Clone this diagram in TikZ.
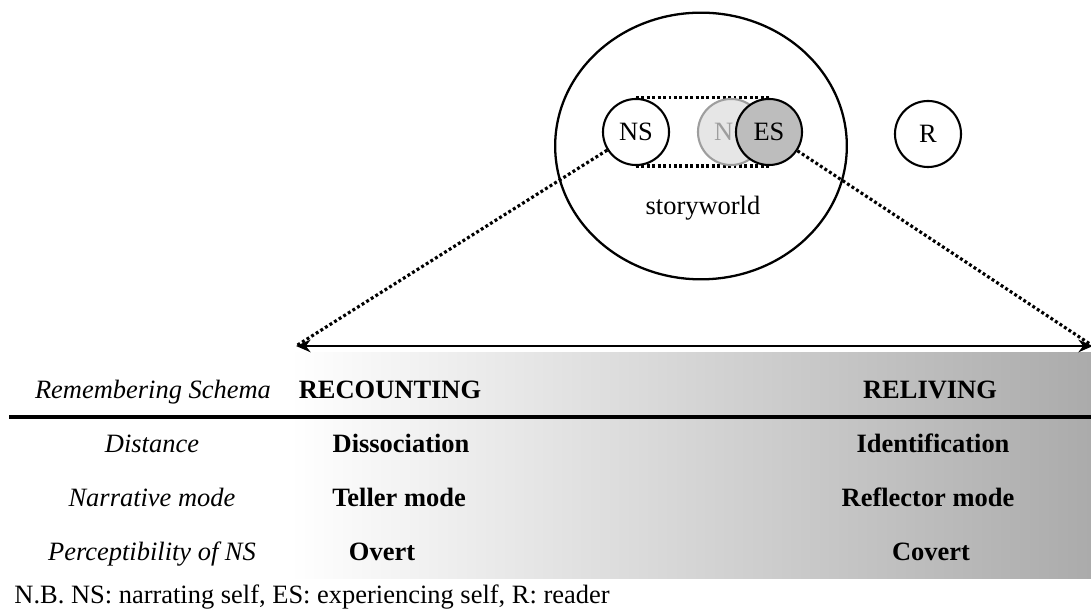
\documentclass[tikz,border=0pt]{standalone}
\usepackage{fontspec}
\setmainfont{Liberation Serif}
\usetikzlibrary{shapes.geometric, arrows.meta, backgrounds}
\usepackage{xcolor}
\definecolor{cShadeR}{HTML}{ABABAB}
\definecolor{cGhost}{HTML}{E6E6E6}
\definecolor{cGhostLine}{HTML}{9E9E9E}
\definecolor{cSelf}{HTML}{BDBDBD}
\newcommand{\diagfont}{\fontsize{12.7}{15}\selectfont}
\tikzset{
  selfnode/.style={
    draw=black, fill=#1, circle, line width=1pt,
    minimum size=31.7pt, inner sep=0pt, font=\diagfont,
  },
  selfnode/.default=white,
  rowlabel/.style={font=\diagfont\itshape, anchor=base},
  rowvalue/.style={font=\diagfont\bfseries, anchor=base},
  dotline/.style={line width=1.5pt, dash pattern=on 1.4pt off 1.2pt},
  arw/.style={{Stealth[length=7pt,width=6pt]}-{Stealth[length=7pt,width=6pt]}, line width=1.1pt},
}
\begin{document}
\begin{tikzpicture}[x=0.48pt, y=-0.48pt]
  \useasboundingbox (0,0) rectangle (1091,615);

  % Storyworld and the selves inside it
  \node[ellipse, draw, line width=1.1pt, minimum width=140pt, minimum height=128pt] (world) at (701,146) {};
  \node[font=\diagfont] (sw) at (703,208) {storyworld};

  \node[selfnode] (NS) at (636,132) {NS};
  \node[selfnode=cGhost, draw=cGhostLine, text=cGhostLine] (N) at (731,132) {N\phantom{S}};
  \node[selfnode=cSelf] (ES) at (769,132) {ES};
  \node[selfnode] (R) at (928,134) {R};

  % Shaded scale and the band between the selves
  \begin{scope}[on background layer]
    \shade[left color=white, right color=cShadeR] (290,353) rectangle (1091,579);
    \draw[dotline] (NS.north) -- (ES.north) (NS.south) -- (ES.south);
  \end{scope}

  % Scale arrow and its projection lines
  \coordinate (lt) at (296,346);
  \coordinate (rt) at (1093,346);
  \draw[arw] (lt) -- (rt);
  \draw[dotline] (NS) -- (lt);
  \draw[dotline] (ES) -- (rt);

  % Header row
  \node[rowlabel] (hSchema) at (153,399) {Remembering Schema};
  \node[rowvalue] (hRecount) at (390,399) {RECOUNTING};
  \node[rowvalue] (hRelive) at (930,399) {RELIVING};
  \draw[line width=1.8pt] (9,417) -- (1091,417);

  % Rows
  \node[rowlabel] (lDist) at (152,453) {Distance};
  \node[rowvalue] (vDissoc) at (401,453) {Dissociation};
  \node[rowvalue] (vIdent) at (933,453) {Identification};

  \node[rowlabel] (lMode) at (152,507) {Narrative mode};
  \node[rowvalue] (vTeller) at (399,507) {Teller mode};
  \node[rowvalue] (vReflect) at (928,507) {Reflector mode};

  \node[rowlabel] (lPerc) at (152,561) {Perceptibility of NS};
  \node[rowvalue] (vOvert) at (382,561) {Overt};
  \node[rowvalue] (vCovert) at (931,561) {Covert};

  \node[font=\diagfont, anchor=base west, inner sep=0pt] (note) at (14,604)
    {N.B. NS: narrating self, ES: experiencing self, R: reader};

\end{tikzpicture}
\end{document}
